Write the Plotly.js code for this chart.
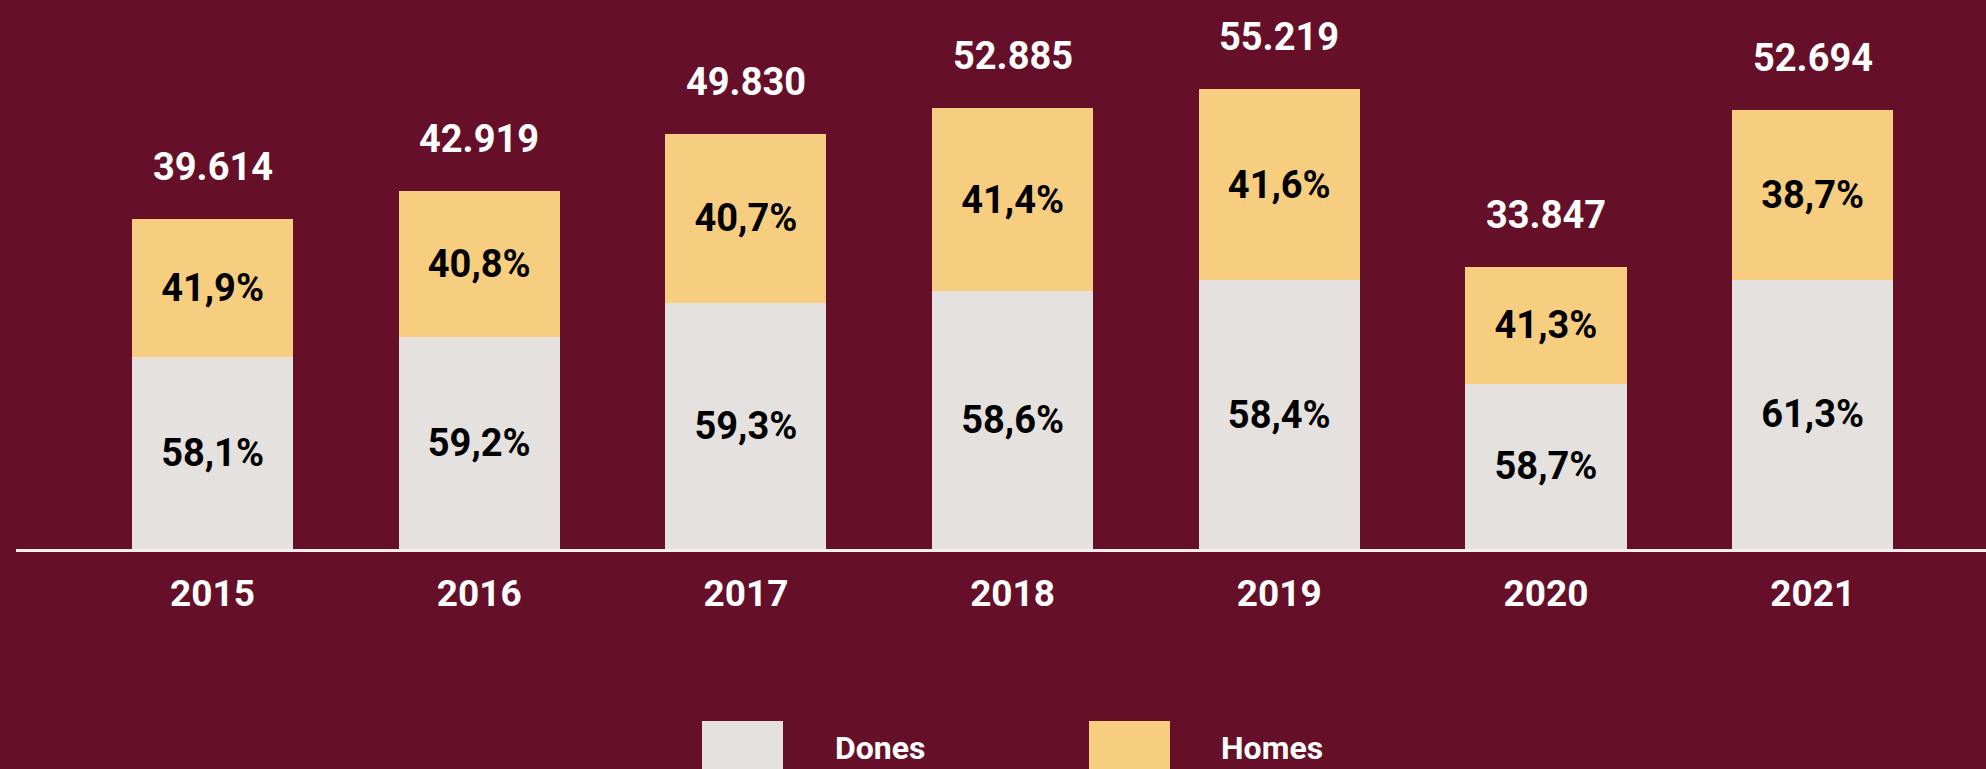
<!DOCTYPE html>
<html>
<head>
<meta charset="utf-8">
<script src="https://cdn.plot.ly/plotly-3.0.1.min.js"></script>
<style>
  html, body { margin: 0; padding: 0; background: #660F29; }
  #chart { width: 1986px; height: 769px; }
</style>
</head>
<body>
<div id="chart"></div>
<script>
// ---- data ----
var years = ['2015', '2016', '2017', '2018', '2019', '2020', '2021'];
var totals = [39614, 42919, 49830, 52885, 55219, 33847, 52694];
var totalLabels = ['39.614', '42.919', '49.830', '52.885', '55.219', '33.847', '52.694'];
var donesPct = [58.1, 59.2, 59.3, 58.6, 58.4, 58.7, 61.3];
var homesPct = [41.9, 40.8, 40.7, 41.4, 41.6, 41.3, 38.7];
var seriesNames = ['Dones', 'Homes'];

// ---- styling ----
var BG = '#660F29';
var C_DONES = '#E4E1DE';
var C_HOMES = '#F7CD7F';
var FONT = 'Roboto, "Noto Sans", sans-serif';

function fmtPct(v) { return v.toFixed(1).replace('.', ',') + '%'; }

var donesVals = totals.map(function (t, i) { return t * donesPct[i] / 100; });
var homesVals = totals.map(function (t, i) { return t * homesPct[i] / 100; });

var traces = [
  {
    type: 'bar', name: seriesNames[0], x: years, y: donesVals,
    marker: { color: C_DONES, line: { width: 0 } },
    text: donesPct.map(fmtPct), textposition: 'inside', insidetextanchor: 'middle',
    textfont: { family: FONT, size: 38, color: '#000000', weight: 'bold' },
    constraintext: 'none', hoverinfo: 'skip', showlegend: false
  },
  {
    type: 'bar', name: seriesNames[1], x: years, y: homesVals,
    marker: { color: C_HOMES, line: { width: 0 } },
    text: homesPct.map(fmtPct), textposition: 'inside', insidetextanchor: 'middle',
    textfont: { family: FONT, size: 38, color: '#000000', weight: 'bold' },
    constraintext: 'none', hoverinfo: 'skip', showlegend: false
  }
];

// layout geometry (pixels)
var W = 1986, H = 769;
var M = { l: 16, r: 0, t: 20, b: 220 };
var plotW = W - M.l - M.r, plotH = H - M.t - M.b;
function px(x) { return (x - M.l) / plotW; }
function py(y) { return (H - M.b - y) / plotH; }

// total labels above each stacked bar (x given as category index)
var annotations = years.map(function (yr, i) {
  return {
    x: i, y: totals[i], xref: 'x', yref: 'y',
    text: totalLabels[i], showarrow: false,
    xanchor: 'center', yanchor: 'middle', yshift: 52,
    font: { family: FONT, size: 38, color: '#FFFFFF', weight: 'bold' }
  };
});

// legend (custom large swatches)
var legendItems = [
  { name: seriesNames[0], color: C_DONES, x0: 702, x1: 783, tx: 833 },
  { name: seriesNames[1], color: C_HOMES, x0: 1089, x1: 1170, tx: 1219 }
];
var shapes = [];
legendItems.forEach(function (it) {
  shapes.push({
    type: 'rect', xref: 'paper', yref: 'paper',
    x0: px(it.x0), x1: px(it.x1), y0: py(721), y1: py(802),
    fillcolor: it.color, line: { width: 0 }
  });
  annotations.push({
    xref: 'paper', yref: 'paper', x: px(it.tx), y: py(748),
    xanchor: 'left', yanchor: 'middle', showarrow: false,
    text: it.name,
    font: { family: FONT, size: 32, color: '#FFFFFF', weight: 'bold' }
  });
});

var layout = {
  width: W, height: H,
  margin: M,
  paper_bgcolor: BG, plot_bgcolor: BG,
  barmode: 'stack', bargap: 0.396,
  showlegend: false,
  xaxis: {
    type: 'category', range: [-0.737, 6.65], fixedrange: true,
    showgrid: false, zeroline: false,
    showline: true, linecolor: '#F3EDED', linewidth: 2.5,
    ticks: '', ticklabelstandoff: 10,
    tickfont: { family: FONT, size: 37, color: '#FFFFFF', weight: 'bold' }
  },
  yaxis: {
    range: [0, 63505], visible: false, fixedrange: true,
    showgrid: false, zeroline: false
  },
  annotations: annotations,
  shapes: shapes,
  font: { family: FONT }
};

Plotly.newPlot('chart', traces, layout, { displayModeBar: false, staticPlot: true });
</script>
</body>
</html>
